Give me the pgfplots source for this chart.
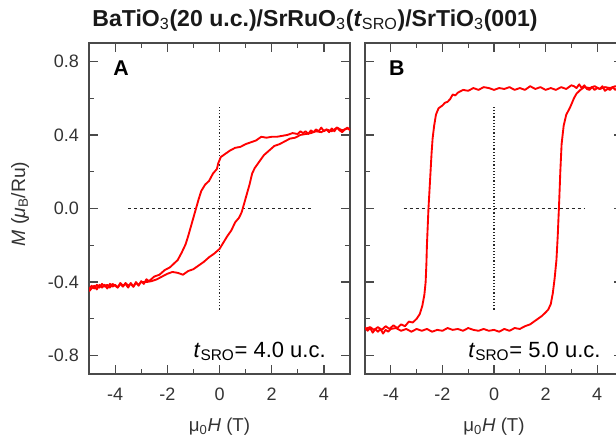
\documentclass[border=0pt]{standalone}
\usepackage{pgfplots}
\pgfplotsset{compat=1.18}
\usepackage{fontspec}
\setmainfont{Liberation Sans}
\definecolor{axgray}{HTML}{4A4A4A}
\definecolor{txtgray}{HTML}{333333}
\pgfplotsset{
  mmstyle/.style={
    scale only axis,
    height=248.25pt,
    xmin=-5, xmax=5, ymin=-0.9, ymax=0.9,
    axis line style={axgray, line width=1pt},
    tick style={axgray, line width=0.9pt},
    tick align=inside,
    major tick length=7pt,
    minor tick length=3.6pt,
    xtick={-4,-2,0,2,4},
    xticklabels={-4,-2,0,2,4},
    minor xtick={-5,-3,-1,1,3,5},
    ytick={-0.8,-0.4,0,0.4,0.8},
    minor ytick={-0.6,-0.2,0.2,0.6},
    ticklabel style={font=\fontsize{13.5}{15}\selectfont, text=txtgray},
    xticklabel style={yshift=-7pt},
    xlabel style={font=\fontsize{14}{16}\selectfont, text=txtgray, yshift=-6pt},
    clip=true,
  },
  loop/.style={red, line width=1.4pt, line join=round},
  hd/.style={black!85, line width=0.7pt, dash pattern=on 2.5pt off 2pt},
  vd/.style={black!85, line width=0.9pt, dash pattern=on 0.9pt off 1.5pt},
}
\begin{document}
\begin{tikzpicture}[x=1pt,y=1pt]
\useasboundingbox (0,0) rectangle (462,-333);
\node[anchor=base, font=\bfseries\fontsize{17.3}{19}\selectfont, text=black!90] at (236.25,-19.5)
  {BaTiO\textsubscript{\mdseries 3}(20 u.c.)/SrRuO\textsubscript{\mdseries 3}(\textit{t}\textsubscript{\mdseries SRO})/SrTiO\textsubscript{\mdseries 3}(001)};
\node[rotate=90, font=\fontsize{14.5}{16}\selectfont, text=txtgray] at (15,-153)
  {\textit{M} (\textit{μ}\textsubscript{B}/Ru)};
% Panel A
\begin{axis}[mmstyle, at={(66.75pt,-280.5pt)}, anchor=south west, width=195.75pt,
  yticklabels={-0.8,-0.4,0.0,0.4,0.8},
  yticklabel style={xshift=-4pt},
  xlabel={μ\textsubscript{0}\textit{H} (T)}]
\addplot[hd] coordinates {(-3.5,0) (3.5,0)};
\addplot[vd] coordinates {(0,-0.55) (0,0.55)};
\addplot[loop] coordinates {
(5.0,0.425) (4.9,0.44) (4.8,0.43) (4.7,0.415) (4.6,0.425) (4.5,0.44) (4.4,0.42) (4.3,0.435) (4.2,0.415) (4.1,0.43) (4.0,0.42) (3.9,0.44) (3.8,0.42) (3.7,0.43) (3.6,0.415) (3.5,0.425) (3.4,0.405) (3.3,0.42) (3.2,0.41) (3.1,0.42) (3.0,0.405) (2.8,0.41) (2.6,0.40) (2.4,0.395) (2.2,0.39) (2.0,0.39) (1.8,0.385) (1.6,0.39) (1.4,0.37) (1.2,0.36) (1.0,0.35) (0.8,0.335) (0.6,0.33) (0.4,0.315) (0.2,0.295) (0.05,0.28) (-0.05,0.245) (-0.1,0.215) (-0.25,0.19) (-0.4,0.15) (-0.55,0.13) (-0.7,0.095) (-0.8,0.05) (-0.9,0.0) (-1.0,-0.05) (-1.1,-0.1) (-1.2,-0.15) (-1.3,-0.195) (-1.45,-0.24) (-1.6,-0.28) (-1.75,-0.30) (-1.9,-0.32) (-2.1,-0.335) (-2.3,-0.36) (-2.5,-0.37) (-2.7,-0.395) (-2.8,-0.385) (-2.9,-0.41) (-3.0,-0.395) (-3.1,-0.42) (-3.2,-0.40) (-3.3,-0.425) (-3.4,-0.405) (-3.5,-0.43) (-3.6,-0.41) (-3.7,-0.42) (-3.8,-0.405) (-3.9,-0.43) (-4.0,-0.415) (-4.1,-0.425) (-4.2,-0.41) (-4.3,-0.435) (-4.4,-0.415) (-4.5,-0.43) (-4.6,-0.415) (-4.7,-0.44) (-4.8,-0.42) (-4.9,-0.435) (-5.0,-0.45)
};
\addplot[loop] coordinates {
(-5.0,-0.44) (-4.9,-0.42) (-4.8,-0.435) (-4.7,-0.415) (-4.6,-0.43) (-4.5,-0.41) (-4.4,-0.425) (-4.3,-0.415) (-4.2,-0.43) (-4.1,-0.41) (-4.0,-0.42) (-3.9,-0.43) (-3.8,-0.41) (-3.7,-0.425) (-3.6,-0.405) (-3.5,-0.42) (-3.4,-0.41) (-3.3,-0.425) (-3.2,-0.405) (-3.1,-0.415) (-3.0,-0.40) (-2.8,-0.40) (-2.6,-0.395) (-2.4,-0.385) (-2.2,-0.37) (-2.0,-0.355) (-1.8,-0.345) (-1.6,-0.35) (-1.4,-0.36) (-1.2,-0.34) (-1.0,-0.33) (-0.8,-0.31) (-0.6,-0.29) (-0.4,-0.265) (-0.2,-0.245) (0.0,-0.22) (0.15,-0.185) (0.3,-0.15) (0.45,-0.12) (0.6,-0.075) (0.75,-0.05) (0.85,-0.02) (0.95,0.03) (1.05,0.08) (1.15,0.13) (1.25,0.19) (1.35,0.22) (1.5,0.25) (1.7,0.29) (1.9,0.315) (2.1,0.34) (2.3,0.35) (2.5,0.365) (2.7,0.38) (2.9,0.385) (3.1,0.40) (3.3,0.405) (3.5,0.41) (3.7,0.42) (3.9,0.415) (4.1,0.43) (4.3,0.42) (4.5,0.44) (4.7,0.425) (4.9,0.435) (5.0,0.43)
};
\node[anchor=base west, font=\bfseries\fontsize{16}{18}\selectfont] at (rel axis cs:0.075,0.903) {A};
\node[anchor=base west, inner sep=0pt, font=\fontsize{16.5}{18}\selectfont] at (rel axis cs:0.40,0.051) {\textit{t}\textsubscript{SRO}= 4.0 u.c.};
\end{axis}
% Panel B
\begin{axis}[mmstyle, at={(273.75pt,-280.5pt)}, anchor=south west, width=193.5pt,
  yticklabels={},
  xlabel={μ\textsubscript{0}\textit{H} (T)}]
\addplot[hd] coordinates {(-3.5,0) (3.5,0)};
\addplot[vd] coordinates {(0,-0.55) (0,0.55)};
\addplot[loop] coordinates {
(5.0,0.655) (4.9,0.64) (4.8,0.655) (4.7,0.645) (4.6,0.66) (4.5,0.645) (4.4,0.65) (4.3,0.64) (4.2,0.665) (4.1,0.65) (4.0,0.655) (3.9,0.645) (3.8,0.66) (3.7,0.645) (3.6,0.65) (3.5,0.67) (3.4,0.655) (3.3,0.675) (3.2,0.655) (3.1,0.665) (3.0,0.67) (2.8,0.65) (2.6,0.66) (2.4,0.645) (2.2,0.655) (2.0,0.645) (1.8,0.66) (1.6,0.65) (1.4,0.665) (1.2,0.645) (1.0,0.655) (0.8,0.645) (0.6,0.66) (0.4,0.65) (0.2,0.655) (0.0,0.645) (-0.2,0.655) (-0.4,0.66) (-0.6,0.645) (-0.8,0.655) (-1.0,0.64) (-1.2,0.645) (-1.4,0.63) (-1.5,0.615) (-1.6,0.62) (-1.7,0.595) (-1.8,0.58) (-1.9,0.575) (-2.0,0.56) (-2.15,0.545) (-2.25,0.51) (-2.32,0.45) (-2.38,0.38) (-2.42,0.30) (-2.46,0.2) (-2.5,0.1) (-2.54,0.0) (-2.57,-0.1) (-2.6,-0.2) (-2.62,-0.3) (-2.65,-0.4) (-2.7,-0.47) (-2.78,-0.53) (-2.88,-0.575) (-3.0,-0.6) (-3.15,-0.62) (-3.3,-0.615) (-3.45,-0.64) (-3.6,-0.63) (-3.75,-0.65) (-3.9,-0.635) (-4.05,-0.655) (-4.2,-0.64) (-4.35,-0.66) (-4.5,-0.645) (-4.65,-0.66) (-4.8,-0.645) (-5.0,-0.655)
};
\addplot[loop] coordinates {
(-5.0,-0.645) (-4.9,-0.665) (-4.8,-0.65) (-4.7,-0.675) (-4.6,-0.655) (-4.5,-0.67) (-4.4,-0.655) (-4.3,-0.68) (-4.2,-0.66) (-4.1,-0.67) (-4.0,-0.655) (-3.8,-0.65) (-3.6,-0.665) (-3.4,-0.655) (-3.2,-0.67) (-3.0,-0.655) (-2.8,-0.665) (-2.6,-0.655) (-2.4,-0.67) (-2.2,-0.66) (-2.0,-0.665) (-1.8,-0.65) (-1.6,-0.66) (-1.4,-0.655) (-1.2,-0.665) (-1.0,-0.65) (-0.8,-0.66) (-0.6,-0.665) (-0.4,-0.655) (-0.2,-0.665) (0.0,-0.66) (0.2,-0.67) (0.4,-0.655) (0.6,-0.665) (0.8,-0.65) (1.0,-0.655) (1.2,-0.64) (1.4,-0.63) (1.55,-0.615) (1.7,-0.60) (1.85,-0.585) (2.0,-0.565) (2.1,-0.55) (2.2,-0.52) (2.28,-0.46) (2.35,-0.38) (2.42,-0.28) (2.47,-0.15) (2.5,-0.05) (2.53,0.05) (2.57,0.2) (2.62,0.35) (2.7,0.45) (2.8,0.51) (2.95,0.55) (3.1,0.6) (3.2,0.625) (3.35,0.645) (3.5,0.66) (3.7,0.655) (3.9,0.665) (4.1,0.65) (4.3,0.66) (4.5,0.655) (4.7,0.665) (5.0,0.65)
};
\node[anchor=base west, font=\bfseries\fontsize{16}{18}\selectfont] at (rel axis cs:0.075,0.903) {B};
\node[anchor=base west, inner sep=0pt, font=\fontsize{16.5}{18}\selectfont] at (rel axis cs:0.40,0.051) {\textit{t}\textsubscript{SRO}= 5.0 u.c.};
\end{axis}
\end{tikzpicture}
\end{document}
